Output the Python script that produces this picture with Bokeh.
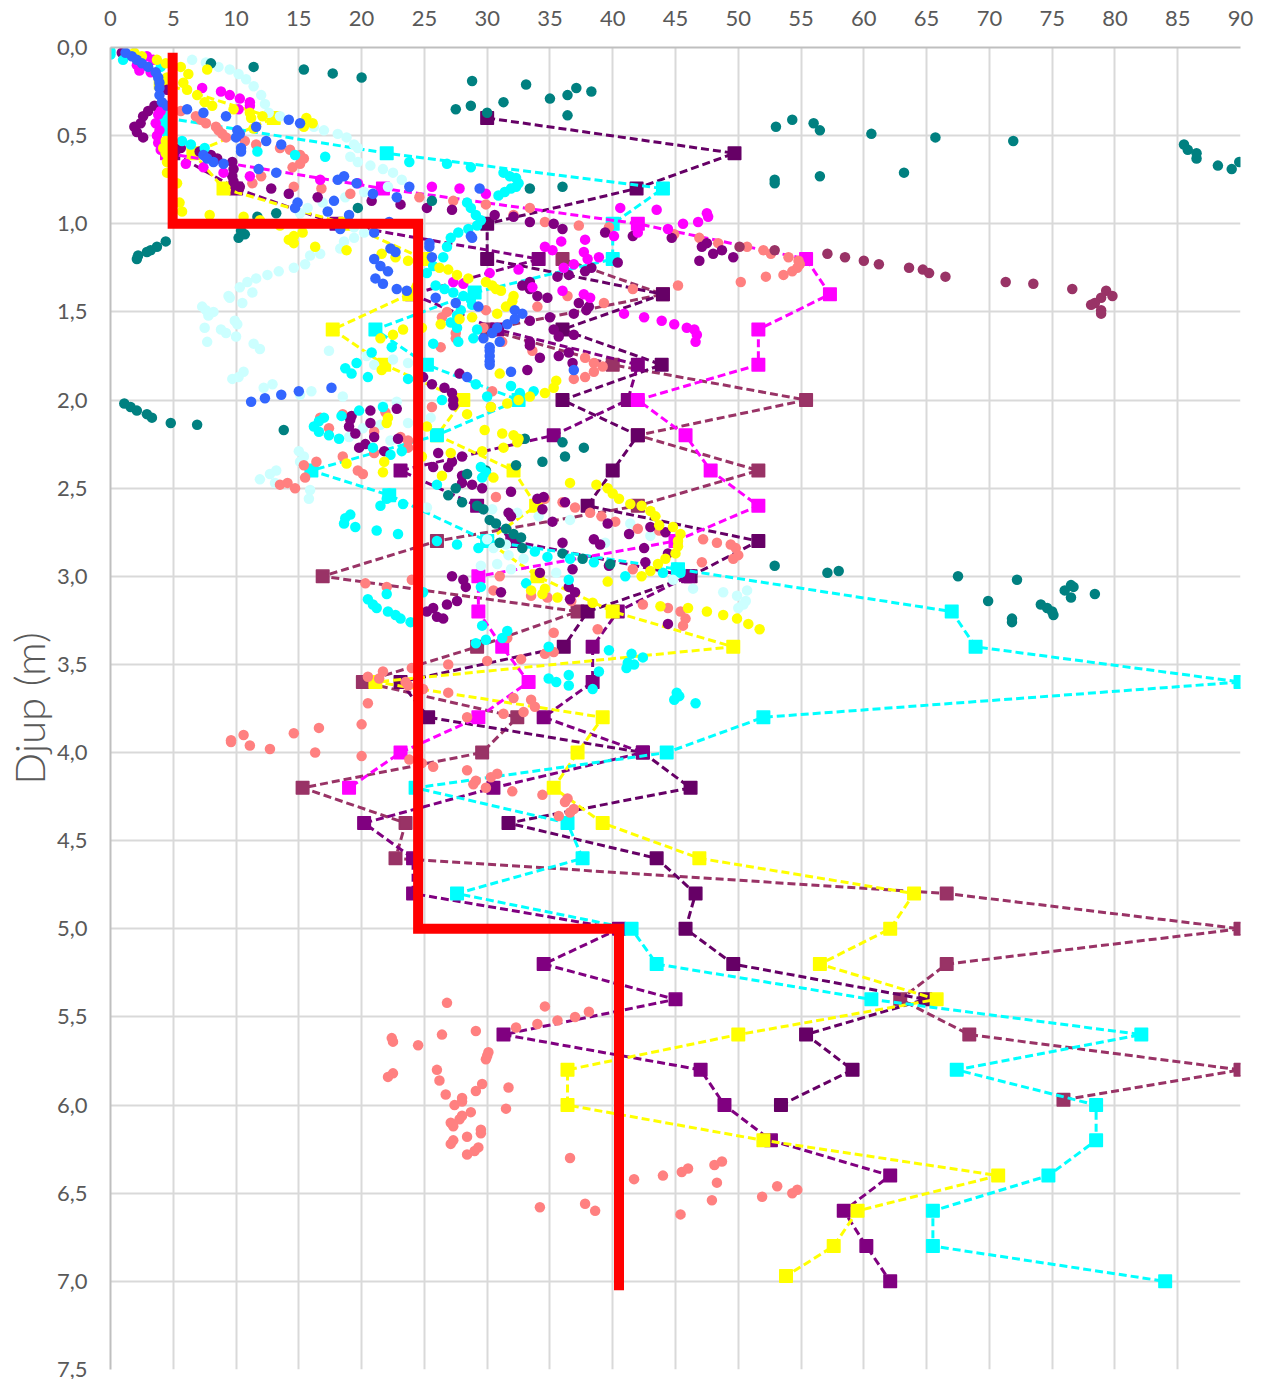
from bokeh.plotting import figure
from bokeh.embed import file_html
from bokeh.resources import INLINE
from bokeh.models import Range1d, FixedTicker

x_ticks = list(range(0, 95, 5))
y_ticks = [0, 0.5, 1, 1.5, 2, 2.5, 3, 3.5, 4, 4.5, 5, 5.5, 6, 6.5, 7, 7.5]
y_labels = ["0,0","0,5","1,0","1,5","2,0","2,5","3,0","3,5","4,0","4,5","5,0","5,5","6,0","6,5","7,0","7,5"]
y_title = "Djup (m)"

limit_x = [4.95, 4.95, 24.5, 24.5, 40.5, 40.5]
limit_d = [0.03, 1.0, 1.0, 5.0, 5.0, 7.05]

dark_line = [(30,.4),(49.7,.6),(41.9,.8),(30,1),(30,1.2),(44,1.4),(36,1.6),(43.9,1.8),(36,2),(42,2.2),(40,2.4),(38,2.6),(51.6,2.8),(46.2,3),(38,3.2),(36.1,3.4),(23.1,3.6),(25.3,3.8),(42.4,4),(46.2,4.2),(31.7,4.4),(43.5,4.6),(46.6,4.8),(45.8,5),(49.6,5.2),(64.9,5.4),(55.4,5.6),(59.1,5.8),(53.4,6)]
purple_line = [(5,.6),(10,.8),(18,1),(34.1,1.2),(24,1.4),(30.8,1.6),(42,1.8),(41.2,2),(35.3,2.2),(23.1,2.4),(29.2,2.6),(32,2.8),(46,3),(40.4,3.2),(38.4,3.4),(38.4,3.6),(34.5,3.8),(42.4,4),(30.5,4.2),(20.2,4.4),(24.1,4.6),(24.1,4.8),(40.5,5),(34.5,5.2),(45,5.4),(31.3,5.6),(47,5.8),(48.9,6),(52.6,6.2),(62.1,6.4),(58.4,6.6),(60.2,6.8),(62.1,7)]
plum_line = [(36,1.2),(44,1.4),(30,1.6),(40,1.8),(55.4,2),(42,2.2),(51.6,2.4),(42,2.6),(26,2.8),(16.9,3),(37.2,3.2),(29.2,3.4),(20.1,3.6),(32.4,3.8),(29.6,4),(15.3,4.2),(23.5,4.4),(22.7,4.6),(66.6,4.8),(90,5),(66.6,5.2),(62.9,5.4),(68.4,5.6),(90,5.8),(75.9,5.97)]
yellow_line = [(4,.2),(13,.4),(6.6,.6),(9,.8),(18.7,1),(25,1.2),(23.8,1.4),(17.7,1.6),(21.8,1.8),(28.1,2),(26,2.2),(32.1,2.4),(33.9,2.6),(30,2.8),(34,3),(40,3.2),(49.6,3.4),(21.1,3.6),(39.2,3.8),(37.2,4),(35.3,4.2),(39.2,4.4),(46.9,4.6),(64,4.8),(62.1,5),(56.5,5.2),(65.8,5.4),(50,5.6),(36.4,5.8),(36.4,6),(52,6.2),(70.7,6.4),(59.5,6.6),(57.6,6.8),(53.8,6.97)]
cyan_line = [(4.5,.4),(22,.6),(44,.8),(40,1),(40,1.2),(29,1.39),(21.1,1.6),(25.2,1.8),(32.5,2),(26,2.2),(16,2.4),(22.2,2.54),(30,2.8),(45.2,2.96),(67,3.2),(68.9,3.4),(90,3.6),(52,3.8),(44.3,4),(24.3,4.2),(36.4,4.4),(37.6,4.6),(27.6,4.8),(41.5,5),(43.5,5.2),(60.6,5.4),(82.1,5.6),(67.4,5.8),(78.5,6),(78.5,6.2),(74.7,6.4),(65.5,6.6),(65.5,6.8),(84,7)]
magenta_line = [(4.5,.6),(21.7,.8),(42,1),(55.4,1.2),(57.3,1.4),(51.6,1.6),(51.6,1.8),(42,2),(45.8,2.2),(47.8,2.4),(51.6,2.6),(45,2.8),(29.3,3),(29.3,3.2),(31.2,3.4),(33.3,3.6),(29.3,3.8),(23.1,4),(19,4.2)]

teal_pts = [(8,.09),(11.4,.11),(15.4,.125),(17.7,.147),(20,.17),(28.8,.19),(33.1,.21),(37.1,.23),(36.4,.27),(35,.29),(38.3,.25),(31.3,.31),(28.7,.33),(27.5,.35),(30,.37),(36.4,.385),
(53,.45),(54.3,.41),(56,.43),(56.5,.47),(60.6,.49),(65.7,.51),(71.9,.53),(85.5,.55),(85.8,.58),(86.5,.6),(86.5,.63),(88.2,.67),(89.3,.69),(89.9,.65),(52.9,.75),(52.9,.77),(56.5,.73),(63.2,.71),
(33.4,.8),(36,.79),(25.6,.87),(19.7,.91),(13.2,.94),(11.7,.96),(10.4,1.04),(10.2,1.08),(10.7,1.06),(4.4,1.1),(3.7,1.13),(3.2,1.15),(2.9,1.16),(2.2,1.18),(2.1,1.2),
(1.1,2.02),(1.6,2.04),(2.1,2.06),(2.9,2.08),(3.3,2.1),(4.8,2.13),(6.9,2.14),(13.8,2.17),(33,2.22),(36,2.24),(37.7,2.27),(36.2,2.32),(34.4,2.35),(32.3,2.37),(29.9,2.4),(28.4,2.42),(27.5,2.5),(26.9,2.54),(28,2.58),(29.2,2.6),(29.7,2.62),(30.2,2.68),(30.7,2.7),(31.5,2.73),(32.1,2.76),(32.7,2.78),(32.8,2.84),(31,2.81),(36,2.87),(37.6,2.9),(39.8,2.93),
(52.9,2.94),(57.1,2.98),(58,2.97),(67.5,3),(72.2,3.02),(69.9,3.14),(76,3.08),(76.5,3.05),(76.7,3.06),(76.5,3.12),(74.1,3.16),(74.6,3.18),(75,3.2),(75.1,3.22),(78.4,3.1),(71.8,3.24),(71.8,3.26)]

light_pts = [(6.5,.07),(7.6,.085),(8.6,.11),(9.5,.125),(10.2,.15),(10.8,.18),(11.4,.22),(12,.27),(12.3,.32),(12.6,.37),(13.5,.39),(16.2,.45),(17,.47),(18.1,.49),(18.8,.51),(19.4,.55),(19.7,.57),(19.1,.62),(19.7,.65),(20.7,.67),(21.7,.69),(22.5,.71),(23.2,.75),(22.1,.79),(20.2,.82),(18.7,.85),(16.9,.88),(15.7,.91),(15.1,.94),(19.4,1.02),(20.2,1.05),(19.4,1.08),(18.6,1.1),(18.3,1.14),(16.7,1.17),(15.9,1.18),(15.5,1.23),(14.6,1.25),(13.4,1.27),(12.5,1.29),(11.6,1.31),(10.9,1.33),(10.3,1.36),(9.4,1.41),(9.5,1.42),(10.5,1.45),(11.3,1.39),
(7.3,1.47),(7.6,1.49),(7.8,1.52),(8.2,1.5),(7.5,1.59),(7.7,1.67),(8.8,1.6),(9.2,1.62),(9.9,1.55),(10.1,1.57),(10,1.64),(11.4,1.68),(11.9,1.71),(10.6,1.84),(10.2,1.87),(9.7,1.88),(12.2,1.93),(12.9,1.91),(15.1,1.97),(16,1.95),(17.4,1.72),(18.5,1.98),
(15,2.29),(15.4,2.32),(15.1,2.35),(15.9,2.51),(15.8,2.56),(13.2,2.4),(12.7,2.42),(11.9,2.45),(13.1,2.47),(20.4,1.75),(21,1.8),(22.5,1.77),(23.7,1.79),(21.7,2.03),(22.8,2.01),(23.7,2.13),(25.5,2.1),(21.5,2.14),(20.1,2.16),(22.3,2.23),(19,2.21),(25.2,2.61),
(30.4,2.62),(32.4,2.64),(34.1,2.66),(36.6,2.68),(41.4,2.7),(43,2.77),(39.4,2.81),(31.5,2.82),(30,2.79),(30.5,2.84),(31.7,2.88),(32.9,2.9),(30.8,2.93),(31.9,2.96),(29.5,2.94),(35.5,2.98),(44.8,3.02),(46.4,3.07),(48.8,3.09),(49.9,3.11),(50.7,3.08),(50.6,3.14),(50.4,3.16),(50,3.18)]

cyan_pts = [(0,.02),(0,.04),(1,.07),(4,.11),(4.2,.4),(4.2,.44),(4.4,.48),(5.7,.53),(6.4,.55),(7.5,.57),(11.7,.59),(14.7,.61),(17.1,.62),(23.8,.65),(26.8,.66),(28.7,.68),
(31.3,.71),(31.8,.73),(32.3,.74),(32.5,.77),(32.3,.79),(31.9,.8),(31.4,.82),(30.9,.84),(28.4,.88),(28.7,.91),(29.1,.95),(29.5,.98),(29.2,1.01),(28.5,1.03),(27.7,1.05),(27.1,1.08),(26.8,1.13),(26.5,1.19),(25.7,1.24),(25.2,1.28),
(25.9,1.35),(26.6,1.37),(27.3,1.39),(28.1,1.41),(28.7,1.43),(28.8,1.46),(27.9,1.49),(27.6,1.52),(27.1,1.56),(27.6,1.59),(27.7,1.67),(25.7,1.68),(28.9,1.65),(29.2,1.6),(32.6,1.96),(31.9,1.92),(33.7,1.95),(29.1,1.91),(26.4,2),(30,1.98),(25.2,1.8),(22.4,1.7),(20.8,1.73),(19.6,1.79),(18.7,1.82),(19.2,1.85),(20.5,1.87),(23.7,1.88),(18.4,2.09),(19.8,2.06),(21.7,2.04),
(17,2.1),(16.6,2.12),(16.2,2.15),(16.6,2.18),(17.4,2.2),(18.2,2.22),(20.9,2.27),(22.3,2.31),(23.2,2.29),(26,2.48),(29.5,2.38),(29.9,2.41),(29.6,2.44),(22.2,2.53),(22,2.56),(23.3,2.59),(21.5,2.6),(19.1,2.65),(18.7,2.67),(18.6,2.7),(19.5,2.72),(21.2,2.74),(22.9,2.76),
(27.6,2.82),(29.3,2.84),(26,2.8),(33.8,2.86),(34.8,2.89),(36.6,2.9),(38.5,2.92),(41,3),(44,2.98),(45,2.95),(45.4,2.98),(36.5,3.02),(33.1,3.04),(29.5,3.06),(22,3.1),(20.5,3.13),(20.9,3.16),(21.2,3.18),(22.1,3.2),(22.7,3.22),(23.1,3.24),(23.9,3.26),(24.9,3.09),
(29.6,3.28),(31.6,3.31),(31.2,3.35),(29.9,3.36),(29.1,3.38),(34.9,3.4),(39.7,3.42),(41.5,3.44),(42.4,3.46),(41.7,3.5),(41.2,3.49),(41.1,3.52),(38.9,3.54),(36.5,3.56),(34.9,3.58),(35.5,3.6),(36.5,3.62),(38.4,3.64),(45.1,3.66),(45.3,3.68),(44.9,3.7),(46.6,3.72)]

magenta_pts = [(2.1,.1),(2.3,.13),(3.2,.14),(2.9,.05),(3.4,.07),(7.3,.23),(8.8,.25),(9.5,.27),(10.3,.29),(11.1,.31),(11.1,.33),(10.2,.35),(4,.36),(3.8,.38),(3.6,.43),(3.9,.47),(3.7,.5),(3.8,.54),(4,.58),(6,.66),(7.4,.68),(9,.71),(11.1,.73),(16.7,.75),(19.7,.77),(25.6,.79),(27.8,.8),(29.9,.83),
(40.6,.91),(43.5,.92),(44.4,1.03),(45.6,1),(46.8,.99),(47.5,.94),(47.6,.96),(42,1.05),(40.1,1.07),(37.8,1.09),(35.9,1.1),(34.6,1.13),(35.2,1.15),(37.7,1.16),(38,1.2),(38.9,1.19),(36.1,1.25),(36.9,1.23),(32.5,1.26),(30.2,1.28),(28.1,1.34),(27.3,1.33),(33.6,1.36),(36,1.38),(37.7,1.4),(38.2,1.42),(40.9,1.51),(42.5,1.53),(43.9,1.55),(44.9,1.57),(45.9,1.59),(46.5,1.6),(46.7,1.63),(46.6,1.67)]

yellow_pts = [(1.9,.03),(2.5,.05),(3.7,.07),(4.4,.09),(5.6,.11),(6.2,.15),(7.7,.125),(5.8,.2),(6.1,.24),(6.9,.27),(7.5,.31),(8.1,.33),(9.8,.35),(11.1,.37),(11.2,.4),(12.1,.39),(11.4,.46),(15.6,.4),(16.1,.43),(15.4,.45),(4.5,.17),(4.4,.53),(4.2,.57),(4.4,.6),(4.5,.65),(4.5,.71),(5.3,.77),(5.5,.88),(5.7,.93),(7.9,.95),(10.6,.96),(11.9,.98),(13.5,1.01),(15.3,1.05),(14.6,1.07),(14.2,1.09),(14.6,1.11),(16.3,1.13),(18.8,1.15),(21.6,1.17),(22.7,1.19),(23.7,1.21),(26.2,1.25),(26.9,1.26),(27.6,1.29),(28.5,1.31),(29.9,1.33),(30.7,1.37),(30.4,1.35),(31.1,1.38),(32.1,1.41),(32,1.44),(31.5,1.47),(30.8,1.51),(28.8,1.53),(27.8,1.54),(26.3,1.57),(24.8,1.59),(23.3,1.6),(22.5,1.63),(21.5,1.65),(21.6,1.83),
(31,1.85),(35.5,1.89),(35.3,1.93),(34.6,1.96),(33.4,1.98),(32.5,2),(31.6,2.02),(30.3,2.04),(28.4,2.08),(22.1,2.1),(22,2.13),(25.2,2.15),(29.8,2.17),(31.2,2.19),(32.1,2.2),(32.5,2.22),(32.4,2.24),(31.3,2.27),(29.6,2.29),(27.1,2.3),(24.8,2.32),(21.8,2.35),(18.8,2.36),(21.7,2.41),(26.4,2.43),(30.5,2.44),(36.6,2.47),
(38.7,2.48),(39.6,2.5),(40,2.53),(40.5,2.56),(41.4,2.59),(42.3,2.6),(43,2.63),(43.4,2.66),(43.7,2.71),(44.8,2.72),(45.4,2.76),(45.2,2.8),(45.2,2.83),(45,2.87),(44.2,2.9),(43.6,2.93),(43,2.97),(42.3,3),(39.6,3.03),(33.5,3.08),(34.6,3.07),(35.6,3.12),(34.4,3.1),(38.4,3.15),(43.8,3.17),(46,3.18),(47.5,3.2),(48.8,3.22),(49.9,3.24),(50.8,3.27),(51.7,3.3)]

blue_pts = [(1.2,.03),(1.7,.05),(2.1,.07),(2.5,.09),(3,.11),(3.6,.14),(3.8,.17),(3.9,.2),(3.9,.23),(3.9,.27),(4.1,.31),(4.5,.33),(6.1,.35),(7.4,.37),(9.2,.39),(14.2,.41),(15.1,.43),(11.6,.45),(10.1,.47),(10.3,.49),(10,.51),(12.4,.53),(13.6,.55),(10.4,.57),(10.4,.59),(7.4,.61),(7.7,.63),(8.2,.65),(9,.66),(11.8,.69),(13.2,.71),(18.6,.73),(18.1,.75),(19.6,.77),(23.8,.79),(20.9,.83),(22.8,.85),(17.8,.87),(14.9,.88),(14.7,.91),(17.3,.93),(19,.95),(29.4,.8),(18.3,1.03),(21,1.05),(22.2,.99),
(25.4,1.11),(25.4,1.13),(25.6,1.19),(28.7,1.07),(28.8,1.08),(22.3,1.14),(22.7,1.16),(21,1.2),(21.5,1.24),(22.1,1.27),(21.1,1.31),(21.7,1.34),(22.8,1.37),(23.6,1.38),(25.9,1.42),(27.5,1.45),(29.3,1.47),(32.2,1.49),(32.8,1.51),(32.2,1.54),(31.6,1.57),(30.8,1.59),(30.4,1.62),(29.7,1.65),(31,1.67),(30.2,1.7),(30.2,1.72),(30.2,1.75),(30.2,1.78),(30.2,1.8),(28.4,1.87),(31.9,1.84),(36.9,1.83),(17.6,1.93),(15,1.95),(13.6,1.97),(12.3,1.99),(11.2,2.01)]

salmon_pts = [(5.6,.36),(6.8,.39),(7.2,.41),(7.6,.43),(8.4,.45),(8.6,.47),(8.9,.49),(9.2,.51),(10.7,.53),(11.6,.55),(13.5,.57),(14.3,.58),(15.1,.61),(15.4,.63),(15.1,.66),(14.5,.68),(11.3,.77),(12,.73),(14.6,.79),(16.8,.8),(19.1,.83),(24.6,.85),(27.3,.87),(29.9,.89),
(39.7,1.02),(44.9,1.06),(46.9,1.08),(48.4,1.11),(50.7,1.13),(52,1.15),(52.6,1.17),(54,1.19),(54.8,1.21),(54.9,1.23),(54.7,1.25),(54.3,1.27),(53.6,1.29),(52.2,1.3),(50.2,1.33),(45.2,1.35),(41.6,1.37),(39.3,1.45),
(33.4,.91),(34.6,.99),(37.3,1.01),(32.1,.95),(36.4,1.41),(34,1.47),(29.9,1.49),(26.8,1.5),(26.4,1.53),(29.7,1.59),(27.5,1.62),(27.5,1.65),(31.2,1.67),(26.3,1.7),(33.6,1.72),(37.8,1.76),(38.5,1.79),(39.2,1.81),(38.5,1.84),(37.8,1.87),(36.9,1.88),(30.4,1.95),(30.3,2.04),(25.6,2.04),
(18.5,2.32),(21,2.3),(19.7,2.4),(20.1,2.42),(15.4,2.37),(16.4,2.35),(15.5,2.44),(14.7,2.5),(14.1,2.47),(13.5,2.48),(16.7,2.1),(17.4,2.16),(18.5,2.08),(21,2.18),(21.9,2.07),(23.1,2.21),(23.7,2.23),(23.7,2.27),
(30.7,2.55),(34.6,2.56),(36,2.58),(37,2.61),(38.2,2.64),(39.1,2.66),(40.2,2.69),(42,2.73),(43.7,2.74),(47.2,2.79),(48.3,2.81),(49.4,2.82),(49.8,2.84),(50,2.88),(49.6,2.9),(47.1,2.92),(41.6,2.96),(31,3),(30.5,3.08),(33.5,3.11),(20.3,3.04),(22,3.06),(24,3.02),
(34.8,3.12),(36.7,3.14),(42.4,3.16),(44.4,3.18),(45.4,3.2),(45.8,3.24),(45.6,3.28),(38.8,3.3),(35.3,3.32),(31.6,3.35),(35.3,3.43),(34.6,3.44),(32.7,3.47),(30,3.48),(26.9,3.5),(24,3.52),(21.7,3.54),(20.5,3.57),(21.4,3.58),(23.5,3.6),(23.7,3.62),(24.9,3.64),(26.9,3.66),(20.5,3.72),(32.1,3.69),(33.5,3.7),(33.8,3.74),(32.9,3.77),(31.3,3.78),(28.4,3.8),(20,3.84),(16.6,3.86),(16.3,4),(20,4.02),
(10.6,3.9),(9.6,3.93),(9.6,3.94),(11.1,3.96),(12.7,3.98),(14.6,3.89),(23.8,4.04),(24.8,4.06),(25.7,4.08),(28.4,4.1),(30.8,4.12),(30.3,4.14),(29.1,4.16),(28.9,4.18),(29.9,4.2),(32,4.22),(34.4,4.24),(36.4,4.26),(36.2,4.28),(36.9,4.32),(36.6,4.34),(35.7,4.36),
(26.8,5.42),(34.6,5.44),(38.1,5.47),(37,5.5),(35.6,5.52),(34,5.54),(32.3,5.56),(26.4,5.6),(29.1,5.58),(22.4,5.62),(22.5,5.64),(24.5,5.66),(30.1,5.7),(30,5.72),(29.9,5.74),(26,5.8),(22.5,5.82),(22.1,5.84),(26.2,5.86),(29.6,5.88),(31.7,5.9),(29.1,5.92),(26.7,5.94),(28,5.96),(28,5.98),(27.4,6),(31.5,6.02),(28.7,6.04),(28,6.06),(27.8,6.08),(27.1,6.1),(27.3,6.12),(29.5,6.14),(29.5,6.16),(28.4,6.18),(27.3,6.2),(27.1,6.22),(29.3,6.24),(29,6.26),(28.4,6.28),
(36.6,6.3),(48.7,6.32),(48.1,6.34),(46,6.36),(45.5,6.38),(44,6.4),(41.7,6.42),(48.3,6.44),(53.1,6.46),(54.7,6.48),(54.3,6.5),(51.9,6.52),(47.9,6.54),(37.8,6.56),(34.2,6.58),(38.6,6.6),(45.4,6.62)]

purple_pts = [(.9,.03),(1.3,.04),(4.5,.24),(3.5,.33),(3,.36),(2.6,.39),(2.4,.43),(1.9,.45),(2.1,.48),(2.6,.51),(5.6,.57),(7.1,.59),(8,.61),(8.5,.63),(9.7,.65),(9.8,.69),(9.7,.73),(9.8,.76),(10.3,.79),(12.8,.8),(14.2,.83),(16.5,.85),(20.8,.87),(23.1,.89),(25.2,.91),(27.2,.92),(30.6,.95),
(32.1,.96),(33.4,.99),(35.3,1),(36,1.03),(39.4,1.05),(41.6,1.07),(44.7,1.08),(47.1,1.13),(47.5,1.11),(48,1.17),(48.7,1.15),(49.6,1.19),(46.9,1.21),(40.4,1.22),(38.3,1.25),(37.8,1.27),(36.5,1.29),(35.6,1.3),(33.4,1.33),(32.8,1.35),(33.4,1.37),(34,1.41),(34.8,1.42),(37.3,1.45),(38.1,1.47),(37.9,1.49),(36.9,1.51),(35,1.53),(33.4,1.55),(35.3,1.6),(36.9,1.63),(35.7,1.64),(33.4,1.67),(33.4,1.69),(36.5,1.73),(35.7,1.75),(34.2,1.76),(36.8,1.79),(33.2,1.83),(27.8,1.85),(24.9,1.87),(25.6,1.91),(26.6,1.93),(27.2,1.96),(27.3,2),(27.3,2.03),
(22.8,2.05),(20.7,2.06),(19.2,2.09),(20.7,2.13),(19.1,2.11),(19,2.15),(19.5,2.19),(21,2.21),(22.9,2.22),(20.3,2.25),(19.8,2.27),(21.8,2.29),(26.1,2.3),(28,2.32),(27.2,2.35),(26.9,2.38),(25.7,2.38),(28,2.43),(28,2.47),(28.8,2.48),(29.6,2.5),(31.9,2.52),(34.5,2.55),(34,2.56),(36.2,2.58),(34.4,2.62),(31.7,2.64),(31.9,2.66),(35.2,2.69),(39.6,2.7),(43,2.72),(44.2,2.75),(41.3,2.76),(38.5,2.79),(39,2.82),(36,2.81),(42.5,2.84),(44.4,2.87),(42.6,2.92),(39.7,2.94),(36.8,2.96),(34.2,2.98),(27.2,3),(28.1,3.02),(28.3,3.06),(31.1,3.09),(36.5,3.06),(37,3.09),(36.6,3.13),(27.6,3.14),(26.8,3.16),(25.7,3.18),(25.2,3.2),(26,3.23),(26.5,3.24),(44.4,3.27)]

plum_pts = [(50.1,1.13),(52.9,1.15),(57.1,1.17),(58.5,1.19),(60,1.21),(61.2,1.23),(63.6,1.25),(64.7,1.26),(65.2,1.28),(66.5,1.3),(71.3,1.33),(73.5,1.34),(76.6,1.37),(79.3,1.38),(79.8,1.41),(78.9,1.42),(78.4,1.45),(78.1,1.46),(78.9,1.49),(78.9,1.51)]

GRID = "#d9d9d9"
AXIS = "#bfbfbf"
TEXT = "#595959"
FONT = "Lato"

p = figure(frame_width=1130, frame_height=1322, output_backend="svg", toolbar_location=None,
           x_range=Range1d(0, 90), y_range=Range1d(7.5, 0), x_axis_location="above",
           min_border_left=110, min_border_right=14, min_border_top=47, min_border_bottom=10)
p.outline_line_color = None
p.background_fill_color = "white"
p.xgrid.ticker = FixedTicker(ticks=x_ticks)
p.ygrid.ticker = FixedTicker(ticks=y_ticks)
p.xgrid.grid_line_color = GRID
p.ygrid.grid_line_color = GRID
p.xgrid.grid_line_width = 2
p.ygrid.grid_line_width = 2

p.xaxis.ticker = FixedTicker(ticks=x_ticks)
p.yaxis.ticker = FixedTicker(ticks=y_ticks)
p.yaxis.major_label_overrides = {t: l for t, l in zip(y_ticks, y_labels)}
p.xaxis.major_label_overrides = {t: str(t) for t in x_ticks}
for ax in (p.xaxis[0], p.yaxis[0]):
    ax.axis_line_color = AXIS
    ax.axis_line_width = 2
    ax.major_tick_line_color = None
    ax.minor_tick_line_color = None
    ax.major_label_text_font = FONT
    ax.major_label_text_font_size = "22px"
    ax.major_label_text_color = TEXT
p.xaxis.major_label_standoff = 16
p.yaxis.major_label_standoff = 17
p.yaxis.axis_label = y_title
p.yaxis.axis_label_text_font = "Lato Light"
p.yaxis.axis_label_text_font_size = "42px"
p.yaxis.axis_label_text_font_style = "normal"
p.yaxis.axis_label_text_color = TEXT
p.yaxis.axis_label_standoff = 0

line_series = [
    (plum_line, "#993366"),
    (dark_line, "#660066"),
    (purple_line, "#800080"),
    (yellow_line, "#FFFF00"),
    (cyan_line, "#00FFFF"),
    (magenta_line, "#FF00FF"),
]
for pts, col in line_series:
    xs, ds = zip(*pts)
    p.line(list(xs), list(ds), line_color=col, line_width=3, line_dash="8 4")
    p.scatter(list(xs), list(ds), marker="square", size=12.5, fill_color=col, line_color=col,
              line_width=1.5, line_join="round")

dot_series = [
    (light_pts, "#CCFFFF"),
    (salmon_pts, "#FF8080"),
    (plum_pts, "#993366"),
    (purple_pts, "#800080"),
    (teal_pts, "#008080"),
    (cyan_pts, "#00FFFF"),
    (magenta_pts, "#FF00FF"),
    (yellow_pts, "#FFFF00"),
    (blue_pts, "#3366FF"),
]
for pts, col in dot_series:
    xs, ds = zip(*pts)
    p.scatter(list(xs), list(ds), marker="circle", size=10.5, fill_color=col, line_color=None)

p.line(limit_x, limit_d, line_color="#FF0000", line_width=10, line_join="miter", line_cap="butt")

open("out.html", "w").write(file_html(p, INLINE))
